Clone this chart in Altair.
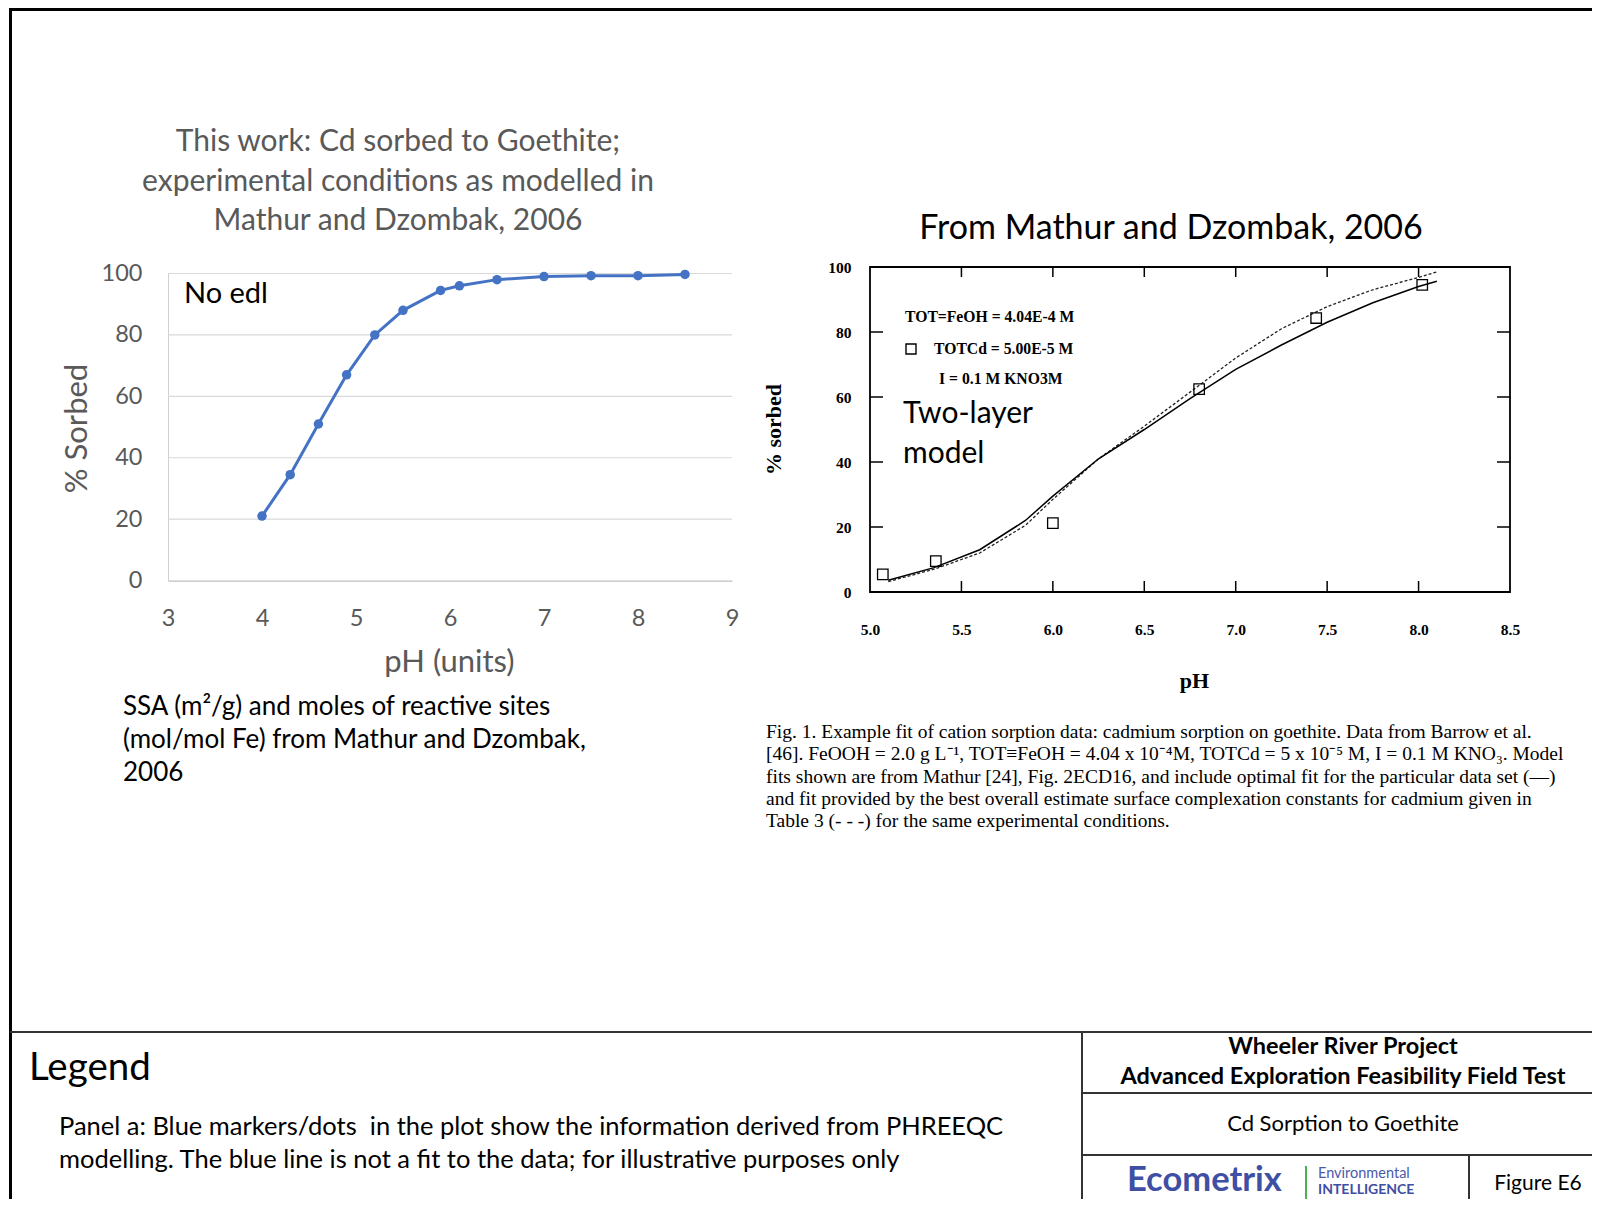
import altair as alt
import pandas as pd

# ---------------- data ----------------
ph_this_work = [4.0, 4.3, 4.6, 4.9, 5.2, 5.5, 5.9, 6.1, 6.5, 7.0, 7.5, 8.0, 8.5]
sorbed_this_work = [21.0, 34.5, 51.0, 67.0, 80.0, 88.0, 94.5, 96.0, 98.0, 99.0, 99.3, 99.3, 99.7]

ph_barrow = [5.07, 5.36, 6.0, 6.8, 7.44, 8.02]
sorbed_barrow = [5.4, 9.5, 21.2, 62.4, 84.3, 94.5]

ph_fit = [5.1, 5.35, 5.6, 5.85, 6.0, 6.25, 6.5, 6.75, 7.0, 7.25, 7.5, 7.75, 8.0, 8.1]
sorbed_optimal_fit = [3.6, 7.5, 13.0, 22.0, 29.5, 41.0, 50.0, 59.5, 68.5, 76.0, 83.0, 89.0, 94.0, 95.6]
sorbed_overall_fit = [3.2, 7.0, 12.0, 20.5, 28.5, 41.0, 51.0, 61.5, 72.0, 81.0, 87.8, 93.0, 96.8, 98.5]

left_x_ticks = [3, 4, 5, 6, 7, 8, 9]
left_y_ticks = [0, 20, 40, 60, 80, 100]
left_grid = [20, 40, 60, 80, 100]
right_x_ticks = [5.0, 5.5, 6.0, 6.5, 7.0, 7.5, 8.0, 8.5]
right_y_ticks = [0, 20, 40, 60, 80, 100]
right_x_inner = [5.5, 6.0, 6.5, 7.0, 7.5, 8.0]
right_y_inner = [20, 40, 60, 80]
right_box = {"x0": [5.0], "x1": [8.5], "y0": [0], "y1": [100]}

left_title = ["This work: Cd sorbed to Goethite;",
              "experimental conditions as modelled in",
              "Mathur and Dzombak, 2006"]
ssa_note = ["SSA (m\u00b2/g) and moles of reactive sites",
            "(mol/mol Fe) from Mathur and Dzombak,",
            "2006"]
caption = [
    "Fig. 1. Example fit of cation sorption data: cadmium sorption on goethite. Data from Barrow et al.",
    "[46]. FeOOH = 2.0 g L\u207b\u00b9, TOT\u2261FeOH = 4.04 x 10\u207b\u2074M, TOTCd = 5 x 10\u207b\u2075 M, I = 0.1 M KNO\u2083. Model",
    "fits shown are from Mathur [24], Fig. 2ECD16, and include optimal fit for the particular data set (\u2014)",
    "and fit provided by the best overall estimate surface complexation constants for cadmium given in",
    "Table 3 (- - -) for the same experimental conditions.",
]
legend_lines = ["Panel a: Blue markers/dots\u00a0 in the plot show the information derived from PHREEQC",
                "modelling. The blue line is not a fit to the data; for illustrative purposes only"]

# ---------------- layout constants ----------------
W, H, M = 1584, 1191, 8
SANS = "Lato"
SERIF = "Liberation Serif"
GRAY = "#595959"
BLUE = "#4472C4"
ONE = pd.DataFrame({"k": [0]})


def px(v):
    return v - M


def text_lines(lines, x, y0, dy, size, font=SANS, color="black", align="left",
               weight="normal", angle=0):
    out = []
    for i, s in enumerate(lines):
        kw = dict(text=s, fontSize=size, font=font, color=color, align=align,
                  fontWeight=weight, baseline="middle")
        if angle:
            kw["angle"] = angle
        out.append(alt.Chart(ONE).mark_text(**kw).encode(
            x=alt.value(px(x)), y=alt.value(px(y0 + i * dy))))
    return out


def seg(x1, y1, x2, y2, color="black", width=1.0):
    return alt.Chart(ONE).mark_rule(color=color, strokeWidth=width).encode(
        x=alt.value(px(x1)), y=alt.value(px(y1)),
        x2=alt.value(px(x2)), y2=alt.value(px(y2)))


# ---------------- left panel: this work ----------------
xA = alt.Scale(domain=[3, 9], range=[px(168), px(732)], nice=False, zero=False)
yA = alt.Scale(domain=[0, 100], range=[px(580.6), px(273.5)], nice=False, zero=False)
axA_x = alt.Axis(orient="bottom", offset=px(580.6) - H, values=left_x_ticks, format="d",
                 labelFont=SANS, labelFontSize=23.5, labelColor=GRAY, labelPadding=26,
                 labelFlush=False, labelOverlap=False, ticks=False, tickSize=0,
                 domainColor="#bfbfbf", domainWidth=1.3, grid=False,
                 title="pH (units)", titleFont=SANS, titleFontSize=31, titleFontWeight="normal",
                 titleColor=GRAY, titleX=px(449), titleY=662 - 580.6, titleBaseline="middle",
                 titleAlign="center", titleAngle=0)
axA_y = alt.Axis(orient="left", offset=-px(168), values=left_y_ticks, format="d",
                 labelFont=SANS, labelFontSize=23.5, labelColor=GRAY, labelPadding=26,
                 labelFlush=False, labelOverlap=False, ticks=False, tickSize=0,
                 domainColor="#d0d0d0", domainWidth=1.0, grid=False,
                 title="% Sorbed", titleFont=SANS, titleFontSize=31, titleFontWeight="normal",
                 titleColor=GRAY, titleX=77 - 168, titleY=px(428), titleBaseline="middle",
                 titleAlign="center", titleAngle=270)

df_left = pd.DataFrame({"ph": ph_this_work, "sorbed": sorbed_this_work})
df_grid = pd.DataFrame({"v": left_grid})

grid_left = alt.Chart(df_grid).mark_rule(color="#d9d9d9", strokeWidth=1.2).encode(
    y=alt.Y("v:Q", scale=yA, axis=axA_y),
    x=alt.value(px(168)), x2=alt.value(px(732)))
line_left = alt.Chart(df_left).mark_line(color=BLUE, strokeWidth=3).encode(
    x=alt.X("ph:Q", scale=xA, axis=axA_x),
    y=alt.Y("sorbed:Q", scale=yA, axis=axA_y))
pts_left = alt.Chart(df_left).mark_point(filled=True, color=BLUE, size=90, opacity=1).encode(
    x=alt.X("ph:Q", scale=xA, axis=axA_x),
    y=alt.Y("sorbed:Q", scale=yA, axis=axA_y))
left_panel = alt.layer(grid_left, line_left, pts_left)

# ---------------- right panel: Mathur and Dzombak, 2006 ----------------
xB = alt.Scale(domain=[5.0, 8.5], range=[px(870), px(1510)], nice=False, zero=False)
yB = alt.Scale(domain=[0, 100], range=[px(592), px(267)], nice=False, zero=False)
axB_x = alt.Axis(orient="bottom", offset=px(592) - H, values=right_x_ticks, format=".1f",
                 labelFont=SERIF, labelFontSize=15.5, labelFontWeight="bold", labelColor="black",
                 labelPadding=30, labelFlush=False, labelOverlap=False, ticks=False, tickSize=0,
                 domain=False, grid=False,
                 title="pH", titleFont=SERIF, titleFontSize=22, titleFontWeight="bold",
                 titleColor="black", titleX=px(1194), titleY=680 - 592, titleBaseline="middle",
                 titleAlign="center", titleAngle=0)
axB_y = alt.Axis(orient="left", offset=-px(870), values=right_y_ticks, format="d",
                 labelFont=SERIF, labelFontSize=15.5, labelFontWeight="bold", labelColor="black",
                 labelPadding=19, labelFlush=False, labelOverlap=False, ticks=False, tickSize=0,
                 domain=False, grid=False,
                 title="% sorbed", titleFont=SERIF, titleFontSize=22, titleFontWeight="bold",
                 titleColor="black", titleX=773 - 870, titleY=px(429), titleBaseline="middle",
                 titleAlign="center", titleAngle=270)

df_pts = pd.DataFrame({"ph": ph_barrow, "sorbed": sorbed_barrow})
df_fit = pd.DataFrame({"ph": ph_fit, "opt": sorbed_optimal_fit, "overall": sorbed_overall_fit})
df_box = pd.DataFrame(right_box)
df_xt = pd.DataFrame({"v": right_x_inner})
df_yt = pd.DataFrame({"v": right_y_inner})

box = alt.Chart(df_box).mark_rect(fillOpacity=0, stroke="black", strokeWidth=1.8).encode(
    x=alt.X("x0:Q", scale=xB, axis=axB_x), x2="x1:Q",
    y=alt.Y("y0:Q", scale=yB, axis=axB_y), y2="y1:Q")
xt_bottom = alt.Chart(df_xt).mark_rule(color="black", strokeWidth=1.5).encode(
    x=alt.X("v:Q", scale=xB, axis=axB_x), y=alt.value(px(592)), y2=alt.value(px(581)))
xt_top = alt.Chart(df_xt).mark_rule(color="black", strokeWidth=1.5).encode(
    x=alt.X("v:Q", scale=xB, axis=axB_x), y=alt.value(px(267)), y2=alt.value(px(277)))
yt_left = alt.Chart(df_yt).mark_rule(color="black", strokeWidth=1.5).encode(
    y=alt.Y("v:Q", scale=yB, axis=axB_y), x=alt.value(px(870)), x2=alt.value(px(883)))
yt_right = alt.Chart(df_yt).mark_rule(color="black", strokeWidth=1.5).encode(
    y=alt.Y("v:Q", scale=yB, axis=axB_y), x=alt.value(px(1510)), x2=alt.value(px(1497)))
fit_opt = alt.Chart(df_fit).mark_line(color="black", strokeWidth=1.5).encode(
    x=alt.X("ph:Q", scale=xB, axis=axB_x), y=alt.Y("opt:Q", scale=yB, axis=axB_y))
fit_all = alt.Chart(df_fit).mark_line(color="#222222", strokeWidth=1.3, strokeDash=[3, 2]).encode(
    x=alt.X("ph:Q", scale=xB, axis=axB_x), y=alt.Y("overall:Q", scale=yB, axis=axB_y))
squares = alt.Chart(df_pts).mark_point(shape="square", filled=False, color="black",
                                        size=110, strokeWidth=1.3, opacity=1).encode(
    x=alt.X("ph:Q", scale=xB, axis=axB_x), y=alt.Y("sorbed:Q", scale=yB, axis=axB_y))
right_panel = alt.layer(box, xt_bottom, xt_top, yt_left, yt_right, fit_all, fit_opt, squares)

# ---------------- annotations ----------------
ann = []
# frame
ann.append(seg(10.5, 5, 10.5, 1207, "black", 3))
ann.append(seg(9, 9.5, 1600, 9.5, "black", 3))
ann.append(seg(10, 1032, 1600, 1032, "#333333", 2))
ann.append(seg(1082, 1032, 1082, 1207, "#333333", 2))
ann.append(seg(1082, 1093, 1600, 1093, "#333333", 2))
ann.append(seg(1082, 1155, 1600, 1155, "#333333", 2))
ann.append(seg(1469, 1155, 1469, 1207, "#333333", 2))

# left panel texts
ann += text_lines(left_title, 398, 142, 39.5, 30, color=GRAY, align="center")
ann += text_lines(["No edl"], 184, 294, 0, 29)
ann += text_lines(ssa_note, 123, 707, 33, 26)

# right panel texts
ann += text_lines(["From Mathur and Dzombak, 2006"], 1171, 229, 0, 34, align="center")
ann += text_lines(["TOT=FeOH = 4.04E-4 M"], 905, 317, 0, 15.7, font=SERIF, weight="bold")
ann += text_lines(["TOTCd = 5.00E-5 M"], 934, 349, 0, 15.7, font=SERIF, weight="bold")
ann += text_lines(["I = 0.1 M KNO3M"], 939, 379, 0, 15.7, font=SERIF, weight="bold")
ann.append(alt.Chart(ONE).mark_point(shape="square", filled=False, color="black", size=100,
                                     strokeWidth=1.4, opacity=1).encode(
    x=alt.value(px(911)), y=alt.value(px(349))))
ann += text_lines(["Two-layer", "model"], 903, 414, 40, 30)
ann += text_lines(caption, 766, 732, 22.3, 19.5, font=SERIF)

# footer
ann += text_lines(["Legend"], 29, 1068, 0, 38.5)
ann += text_lines(legend_lines, 59, 1127, 33, 25.5)
ann += text_lines(["Wheeler River Project", "Advanced Exploration Feasibility Field Test"],
                  1343, 1047, 30, 23.5, weight="bold", align="center")
ann += text_lines(["Cd Sorption to Goethite"], 1343, 1124, 0, 22, align="center")
ann += text_lines(["Figure E6"], 1538, 1184, 0, 21, align="center")
ann += text_lines(["Ecometrix"], 1127, 1181, 0, 34.5, color="#3f4fa3", weight="bold")
ann.append(seg(1306, 1166, 1306, 1199, "#4caf50", 2))
ann += text_lines(["Environmental"], 1318, 1174, 0, 14.5, color="#4a5aa8")
ann += text_lines(["INTELLIGENCE"], 1318, 1190, 0, 14, color="#3f4fa3", weight="bold")

chart = alt.layer(left_panel, right_panel, *ann).resolve_scale(
    x="independent", y="independent"
).properties(
    width=W, height=H, autosize=alt.AutoSizeParams(type="none"), padding=0,
    background="white"
).configure_view(stroke=None)

chart.save("out.html", embed_options={"renderer": "svg", "actions": False})
